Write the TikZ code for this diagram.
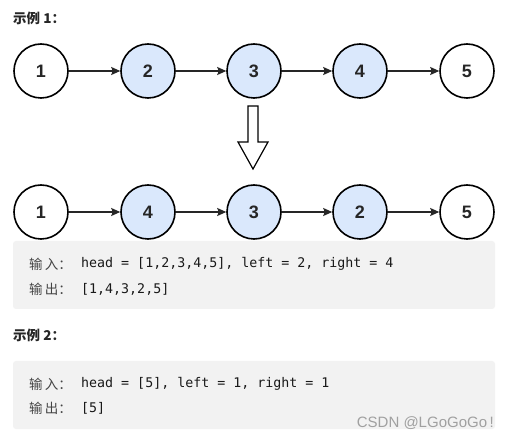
\documentclass[tikz,border=0pt]{standalone}
\usepackage{fontspec}
\setmainfont{Liberation Sans}
\setmonofont{DejaVu Sans Mono}
\newfontfamily\cjk{Noto Sans CJK SC}
\usetikzlibrary{arrows.meta}
\definecolor{nodeblue}{HTML}{DAE8FC}
\definecolor{boxgray}{HTML}{F2F2F2}
\definecolor{txtgray}{HTML}{444444}
\definecolor{wmgray}{HTML}{A0A0A0}
\tikzset{
  lnode/.style={circle, draw=black, line width=1.6pt, minimum size=54pt, inner sep=0pt,
    font=\fontsize{18}{18}\selectfont\bfseries, text=black!85},
  hl/.style={lnode, fill=nodeblue},
  plain/.style={lnode, fill=white},
  link/.style={line width=1.4pt, draw=black!85, -{Stealth[length=9pt,width=8pt,inset=1.5pt]}},
  codebox/.style={fill=boxgray, rounded corners=3pt, draw=none},
  heading/.style={anchor=west, inner sep=0pt, font=\cjk\bfseries\fontsize{13.5}{14}\selectfont, text=black!85},
  cjklabel/.style={anchor=west, inner sep=0pt, font=\cjk\fontsize{13.5}{14}\selectfont, text=txtgray},
  code/.style={anchor=west, inner sep=0pt, font=\ttfamily\fontsize{13.3}{14}\selectfont, text=black!90},
}
\begin{document}
\begin{tikzpicture}[x=1pt,y=-1pt]
\useasboundingbox (0,0) rectangle (509,438);
\fill[white] (0,0) rectangle (509,438);

\node[heading] (h1) at (13,18) {示例 1：};

% top row
\node[plain] (a1) at (41,71) {1};
\node[hl]    (a2) at (148,71) {2};
\node[hl]    (a3) at (254,71) {3};
\node[hl]    (a4) at (360,71) {4};
\node[plain] (a5) at (467,71) {5};
\draw[link] (a1) -- (a2);
\draw[link] (a2) -- (a3);
\draw[link] (a3) -- (a4);
\draw[link] (a4) -- (a5);

% block arrow
\draw[line width=1.2pt, fill=white, line join=miter]
  (248,106) -- (258,106) -- (258,142) -- (268,142) -- (253,169) -- (238,142) -- (248,142) -- cycle;

% bottom row
\node[plain] (b1) at (41,212) {1};
\node[hl]    (b2) at (148,212) {4};
\node[hl]    (b3) at (254,212) {3};
\node[hl]    (b4) at (360,212) {2};
\node[plain] (b5) at (467,212) {5};
\draw[link] (b1) -- (b2);
\draw[link] (b2) -- (b3);
\draw[link] (b3) -- (b4);
\draw[link] (b4) -- (b5);

% code box 1
\fill[codebox] (13,241) rectangle (495,309);
\node[cjklabel] (in1) at (29,264) {输\,入：};
\node[code] (in1c) at (81,264) {head = [1,2,3,4,5], left = 2, right = 4};
\node[cjklabel] (out1) at (29,289) {输\,出：};
\node[code] (out1c) at (81,289) {[1,4,3,2,5]};

\node[heading] (h2) at (13,335) {示例 2：};

% code box 2
\fill[codebox] (13,361) rectangle (495,429);
\node[cjklabel] (in2) at (29,384) {输\,入：};
\node[code] (in2c) at (81,384) {head = [5], left = 1, right = 1};
\node[cjklabel] (out2) at (29,408) {输\,出：};
\node[code] (out2c) at (81,408) {[5]};

\node[anchor=east, inner sep=0pt, font=\fontsize{15}{16}\selectfont, text=wmgray] (wm) at (494,423) {CSDN @LGoGoGo\,!};
\end{tikzpicture}
\end{document}
